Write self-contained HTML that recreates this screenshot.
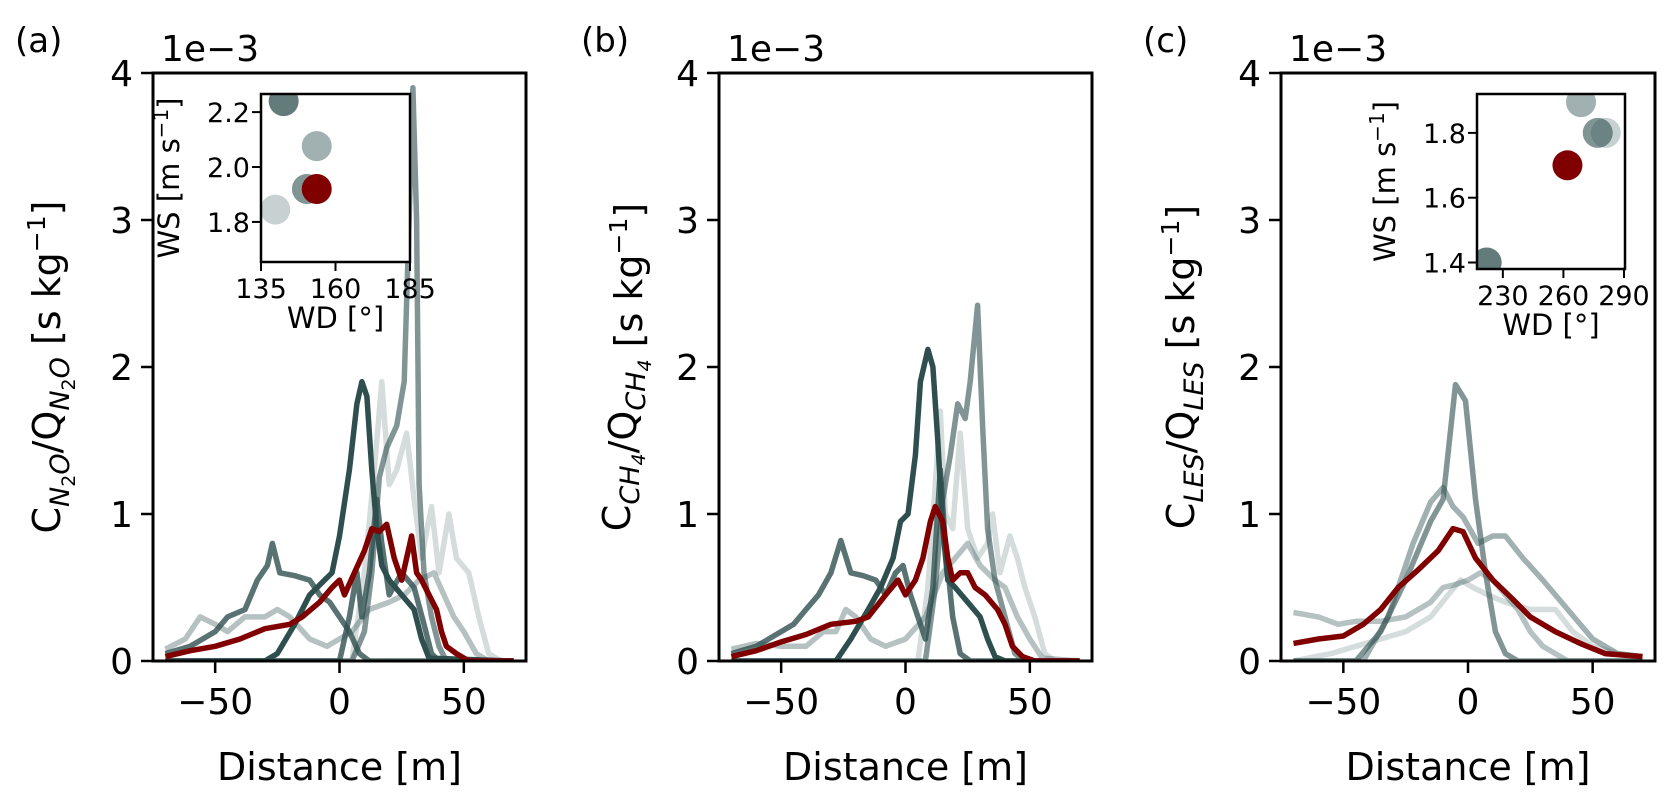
<!DOCTYPE html>
<html><head><meta charset="utf-8"><style>
html,body{margin:0;padding:0;background:#fff;}
svg{display:block;font-family:"DejaVu Sans","Liberation Sans",sans-serif;}
</style></head><body>
<svg id="chart" width="1676" height="802" viewBox="0 0 1676 802"></svg>
<script>
// ---- data ----
const xTicks = [-50, 0, 50];
const yTicks = [0, 1, 2, 3, 4];
const panelLetters = ["(a)", "(b)", "(c)"];

// panel (a) N2O
const aDark1 = [[-70,0],[-30,0],[-25,0.05],[-18,0.25],[-12,0.45],[-6,0.55],[-3,0.6],[0,0.85],[4,1.3],[7,1.75],[9,1.9],[11,1.8],[13,1.3],[15,0.9],[17,0.65],[20,0.55],[25,0.45],[30,0.35],[33,0.15],[36,0.02],[70,0]];
const aDark2 = [[-70,0.05],[-60,0.1],[-50,0.2],[-45,0.3],[-38,0.35],[-33,0.55],[-29,0.65],[-27,0.8],[-24,0.6],[-18,0.58],[-12,0.55],[-8,0.45],[-4,0.4],[0,0.3],[4,0.2],[8,0.05],[12,0],[70,0]];
const aMid1 = [[-70,0],[0,0],[4,0.3],[7,0.6],[9,0.3],[12,0.6],[15,1.1],[17,0.8],[20,0.45],[25,0.6],[30,0.5],[34,0.25],[37,0.05],[40,0],[70,0]];
const aMid2 = [[-70,0],[5,0],[10,0.2],[13,0.6],[16,1.25],[19,1.45],[23,1.6],[26,1.9],[28,3.0],[29.5,3.9],[31,3.0],[32,1.2],[34,0.6],[37,0.3],[40,0.1],[43,0],[70,0]];
const aLight1 = [[-70,0.08],[-62,0.15],[-56,0.3],[-50,0.25],[-45,0.2],[-38,0.3],[-30,0.3],[-25,0.35],[-20,0.3],[-12,0.15],[-5,0.1],[5,0.2],[12,0.35],[20,0.4],[26,0.45],[32,0.55],[38,0.6],[42,0.45],[46,0.3],[50,0.2],[55,0.05],[60,0],[70,0]];
const aLight2 = [[-70,0],[5,0],[10,0.6],[14,1.3],[17,1.9],[20,1.2],[23,1.3],[27,1.55],[30,1.1],[33,0.7],[37,1.05],[40,0.6],[44,1.0],[47,0.7],[52,0.6],[56,0.3],[60,0.05],[65,0],[70,0]];
const aRed = [[-70,0.03],[-60,0.07],[-50,0.1],[-40,0.15],[-30,0.22],[-20,0.25],[-15,0.3],[-8,0.4],[-3,0.5],[0,0.55],[2,0.45],[6,0.6],[10,0.75],[13,0.9],[16,0.88],[19,0.93],[22,0.7],[25,0.55],[27,0.7],[29,0.85],[31,0.6],[33,0.55],[36,0.45],[39,0.35],[41,0.2],[43,0.1],[47,0.05],[52,0],[70,0]];

// panel (b) CH4
const bDark1 = [[-70,0],[-28,0],[-22,0.15],[-15,0.35],[-10,0.5],[-5,0.7],[-2,0.95],[1,1.0],[4,1.4],[6,1.9],[9,2.12],[11,2.0],[13,1.5],[15,0.9],[17,0.55],[20,0.5],[25,0.4],[30,0.3],[33,0.15],[36,0.03],[40,0],[70,0]];
const bDark2 = [[-70,0.05],[-60,0.1],[-50,0.2],[-45,0.25],[-40,0.35],[-35,0.45],[-30,0.6],[-26,0.82],[-22,0.6],[-17,0.58],[-12,0.55],[-8,0.45],[-4,0.6],[-1,0.65],[2,0.45],[5,0.3],[8,0.15],[11,0.5],[14,1.3],[16,0.8],[19,0.3],[22,0.05],[26,0],[70,0]];
const bMid = [[-70,0],[8,0],[12,0.5],[15,1.1],[18,1.4],[21,1.75],[24,1.65],[26,1.9],[29,2.42],[31,1.6],[33,0.9],[36,0.55],[40,0.3],[44,0.05],[48,0],[70,0]];
const bLight1 = [[-70,0.08],[-60,0.12],[-50,0.1],[-40,0.1],[-33,0.2],[-28,0.2],[-24,0.35],[-20,0.3],[-14,0.15],[-8,0.1],[0,0.15],[8,0.3],[15,0.6],[20,0.7],[25,0.8],[30,0.65],[36,0.55],[40,0.5],[45,0.3],[50,0.15],[55,0.02],[70,0]];
const bLight2 = [[-70,0],[5,0],[9,0.5],[12,1.2],[14,1.7],[16,1.0],[19,0.9],[22,1.55],[25,0.9],[29,0.7],[33,0.8],[35,1.0],[38,0.6],[42,0.85],[45,0.7],[48,0.5],[52,0.3],[56,0.05],[60,0],[70,0]];
const bRed = [[-70,0.03],[-60,0.07],[-50,0.13],[-40,0.18],[-30,0.25],[-20,0.27],[-15,0.3],[-8,0.45],[-3,0.55],[0,0.45],[4,0.55],[7,0.7],[10,0.95],[12,1.05],[15,0.95],[17,0.7],[19,0.55],[22,0.6],[25,0.6],[28,0.5],[32,0.45],[37,0.35],[40,0.25],[43,0.1],[47,0.03],[52,0],[70,0]];

// panel (c) LES
const cMid1 = [[-70,0],[-45,0],[-35,0.2],[-25,0.55],[-15,0.95],[-10,1.1],[-5,1.88],[-1,1.77],[3,1.1],[7,0.6],[11,0.2],[15,0.05],[20,0],[70,0]];
const cMid2 = [[-70,0],[-42,0],[-32,0.3],[-22,0.8],[-15,1.08],[-10,1.18],[-6,1.05],[-2,0.98],[4,0.8],[10,0.85],[15,0.85],[22,0.7],[30,0.55],[40,0.35],[50,0.15],[60,0.05],[70,0.03]];
const cLight1 = [[-70,0.33],[-60,0.3],[-52,0.25],[-45,0.27],[-35,0.27],[-25,0.3],[-15,0.4],[-10,0.5],[-5,0.52],[0,0.55],[5,0.6],[10,0.55],[15,0.45],[20,0.35],[25,0.2],[30,0.1],[35,0.05],[40,0],[70,0]];
const cLight2 = [[-70,0],[-55,0.05],[-45,0.1],[-35,0.15],[-25,0.2],[-15,0.3],[-8,0.45],[-3,0.55],[2,0.5],[8,0.45],[15,0.4],[25,0.35],[35,0.35],[42,0.2],[50,0.1],[60,0.05],[70,0.03]];
const cRed = [[-70,0.12],[-60,0.15],[-50,0.17],[-42,0.25],[-35,0.35],[-28,0.5],[-20,0.62],[-12,0.75],[-6,0.9],[-2,0.88],[3,0.7],[10,0.55],[18,0.42],[25,0.3],[35,0.2],[45,0.12],[55,0.05],[70,0.03]];

// insets
const insetAWd = [142.6, 153.7, 150.4, 139.8, 153.7];
const insetAWs = [2.24, 2.076, 1.92, 1.845, 1.92];
const insetCWd = [222, 268.7, 277, 281, 262];
const insetCWs = [1.40, 1.895, 1.80, 1.80, 1.70];
const insetAX = [135, 160, 185];
const insetAY = [1.8, 2.0, 2.2];
const insetCX = [230, 260, 290];
const insetCY = [1.4, 1.6, 1.8];

// ---- drawing ----
const NS = "http://www.w3.org/2000/svg";
const svg = document.getElementById("chart");
function mk(tag, attrs, parent) {
  const e = document.createElementNS(NS, tag);
  for (const k in attrs) e.setAttribute(k, attrs[k]);
  (parent || svg).appendChild(e);
  return e;
}
const GRAY = "#2f4f4f", RED = "#800000";
const TOP = 73, BOT = 661;
const panels = [
  {L:153, R:526, series:[aLight2,aLight1,aMid2,aMid1,aDark2,aDark1], alphas:[0.2,0.35,0.6,0.8,0.8,1.0], red:aRed, key:"n2o"},
  {L:719, R:1092, series:[bLight2,bLight1,bMid,bDark2,bDark1], alphas:[0.2,0.35,0.6,0.8,1.0], red:bRed, key:"ch4"},
  {L:1281, R:1655, series:[cLight2,cLight1,cMid2,cMid1], alphas:[0.2,0.35,0.45,0.6], red:cRed, key:"les"}
];
panels.forEach((p, pi) => {
  const g = mk("g", {});
  
  
  const xs = v => p.L + (v + 75) / 150 * (p.R - p.L);
  const ys = v => BOT - v / 4 * (BOT - TOP);
  const clipId = "clip" + pi;
  const cp = mk("clipPath", {id: clipId}, g);
  mk("rect", {x:p.L, y:TOP, width:p.R-p.L, height:BOT-TOP}, cp);
  const lines = mk("g", {"clip-path":"url(#"+clipId+")"}, g);
  const all = p.series.map((s,i)=>({s, c:GRAY, a:p.alphas[i]})).concat([{s:p.red, c:RED, a:1}]);
  all.forEach((o, si) => {
    const d = o.s.map((pt, i) => (i ? "L" : "M") + xs(pt[0]).toFixed(1) + "," + ys(pt[1]).toFixed(1)).join(" ");
    const path = mk("path", {d, fill:"none", stroke:o.c, "stroke-opacity":o.a, "stroke-width":5.5, "stroke-linejoin":"round"}, lines);
    
    
  });
  const frame = mk("rect", {x:p.L, y:TOP, width:p.R-p.L, height:BOT-TOP, fill:"none", stroke:"#000", "stroke-width":3}, g);
  
  
  xTicks.forEach(t => {
    mk("line", {x1:xs(t), x2:xs(t), y1:BOT, y2:BOT+12, stroke:"#000", "stroke-width":2.5}, g);
    const tx = mk("text", {x:xs(t), y:BOT+53, "font-size":36, "text-anchor":"middle"}, g);
    tx.textContent = t < 0 ? "\u2212" + Math.abs(t) : String(t);
    
    
  });
  yTicks.forEach(t => {
    mk("line", {x1:p.L-12, x2:p.L, y1:ys(t), y2:ys(t), stroke:"#000", "stroke-width":2.5}, g);
    const tx = mk("text", {x:p.L-20, y:ys(t)+13, "font-size":36, "text-anchor":"end"}, g);
    tx.textContent = String(t);
    
    
  });
  const xl = mk("text", {x:(p.L+p.R)/2, y:780, "font-size":38, "text-anchor":"middle"}, g);
  xl.textContent = "Distance [m]";
  
  
  const off = mk("text", {x:p.L+8, y:61, "font-size":36}, g);
  off.textContent = "1e\u22123";
  
  
  const lt = mk("text", {x:p.L-138, y:52, "font-size":34}, g);
  lt.textContent = panelLetters[pi];
  
  
});

// y labels with sub/superscripts
function ylabel(x, sub, name) {
  const t = mk("text", {transform:"translate("+x+",367) rotate(-90)", "font-size":38, "text-anchor":"middle"});
  
  
  t.innerHTML = 'C<tspan font-size="27" dy="9" font-style="italic">' + sub + '</tspan><tspan dy="-9">/Q</tspan><tspan font-size="27" dy="9" font-style="italic">' + sub + '</tspan><tspan dy="-9"> [s kg</tspan><tspan font-size="25" dy="-15">\u22121</tspan><tspan dy="15">]</tspan>';
}
ylabel(60, 'N<tspan font-size="19" dy="6" font-style="normal">2</tspan><tspan dy="-6">O</tspan>', "y-axis-title-n2o");
ylabel(630, 'CH<tspan font-size="19" dy="6">4</tspan><tspan dy="-6"></tspan>', "y-axis-title-ch4");
ylabel(1194, 'LES', "y-axis-title-les");

// insets
function inset(L, R, T, B, x0, x1, y0, y1, wd, ws, xt, yt, key, ylOff) {
  const g = mk("g", {});
  
  
  const xs = v => L + (v - x0) / (x1 - x0) * (R - L);
  const ys = v => B - (v - y0) / (y1 - y0) * (B - T);
  mk("rect", {x:L, y:T, width:R-L, height:B-T, fill:"#fff"}, g);
  const clip = mk("clipPath", {id:"ic"+key}, g);
  mk("rect", {x:L, y:T, width:R-L, height:B-T}, clip);
  const dots = mk("g", {"clip-path":"url(#ic"+key+")"}, g);
  const alphas = [1.0, 0.6, 0.8, 0.35, 1.0];
  wd.forEach((v, i) => {
    const red = i === wd.length - 1;
    const c = mk("circle", {cx:xs(v), cy:ys(ws[i]), r:15, fill: red ? RED : GRAY, "fill-opacity": red ? 1 : alphas[i] * 0.75}, dots);
    
    
  });
  mk("rect", {x:L, y:T, width:R-L, height:B-T, fill:"none", stroke:"#000", "stroke-width":2.5}, g);
  xt.forEach(t => {
    mk("line", {x1:xs(t), x2:xs(t), y1:B, y2:B+9, stroke:"#000", "stroke-width":2}, g);
    const tx = mk("text", {x:xs(t), y:B+36, "font-size":27, "text-anchor":"middle"}, g);
    tx.textContent = String(t);
    
    
  });
  yt.forEach(t => {
    mk("line", {x1:L-9, x2:L, y1:ys(t), y2:ys(t), stroke:"#000", "stroke-width":2}, g);
    const tx = mk("text", {x:L-11, y:ys(t)+10, "font-size":27, "text-anchor":"end"}, g);
    tx.textContent = t.toFixed(1);
    
    
  });
  const xl = mk("text", {x:(L+R)/2, y:B+66, "font-size":29, "text-anchor":"middle"}, g);
  xl.textContent = "WD [\u00b0]";
  
  
  const yl = mk("text", {transform:"translate("+(L-ylOff)+","+((T+B)/2)+") rotate(-90)", "font-size":29, "text-anchor":"middle"}, g);
  yl.innerHTML = 'WS [m s<tspan font-size="20" dy="-11">\u22121</tspan><tspan dy="11">]</tspan>';
  
  
}
inset(261, 410, 94, 262, 135, 185, 1.654, 2.266, insetAWd, insetAWs, insetAX, insetAY, "a", 82);
inset(1477, 1625, 94, 269, 217.2, 290.5, 1.38, 1.92, insetCWd, insetCWs, insetCX, insetCY, "c", 82);
</script>
</body></html>
